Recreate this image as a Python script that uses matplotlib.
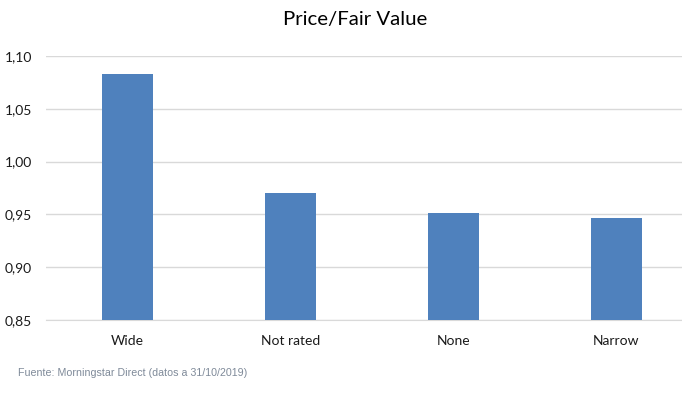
import matplotlib

matplotlib.use("Agg")
import matplotlib.pyplot as plt
from matplotlib.ticker import FuncFormatter

categories = ["Wide", "Not rated", "None", "Narrow"]
values = [1.083, 0.970, 0.951, 0.947]
yticks = [0.85, 0.90, 0.95, 1.00, 1.05, 1.10]

plt.rcParams["font.family"] = ["Lato", "DejaVu Sans"]

fig = plt.figure(figsize=(6.82, 3.95), dpi=100)
ax = fig.add_axes([46 / 682, 75 / 395, 652 / 682, 264 / 395])

x = range(len(categories))
ax.bar(x, values, width=0.315, bottom=0, color="#4f81bd", zorder=3)
ax.set_xlim(-0.5, len(categories) - 0.5)
ax.set_ylim(0.85, 1.10)
ax.set_yticks(yticks)
ax.yaxis.set_major_formatter(FuncFormatter(lambda v, _: f"{v:.2f}".replace(".", ",")))
ax.set_xticks(list(x))
ax.set_xticklabels(categories)
ax.tick_params(axis="both", length=0, labelsize=10, colors="#1a1a1a")
ax.tick_params(axis="x", pad=11)
ax.tick_params(axis="y", pad=10)
ax.grid(axis="y", color="#d9d9d9", linewidth=1.0, zorder=0)
for side in ("top", "right", "left"):
    ax.spines[side].set_visible(False)
ax.spines["bottom"].set_color("#d9d9d9")

fig.text(355 / 682, 1 - 20 / 395, "Price/Fair Value", ha="center", va="center",
         fontsize=14.7, color="#000000")
fig.text(18 / 682, 1 - 373 / 395, "Fuente: Morningstar Direct (datos a 31/10/2019)",
         ha="left", va="center", fontsize=7.7, color="#7f8a99",
         family=["Liberation Sans", "DejaVu Sans"])

fig.savefig("out.png", dpi=100)
